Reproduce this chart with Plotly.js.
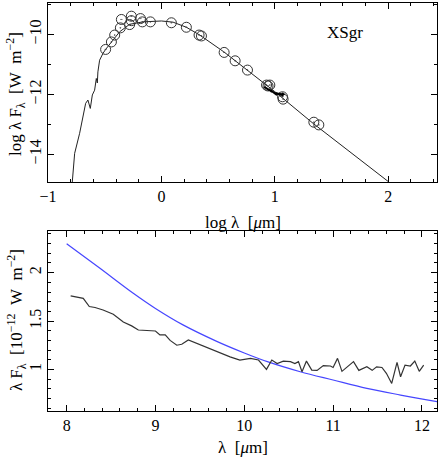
<!DOCTYPE html>
<html>
<head>
<meta charset="utf-8">
<script src="https://cdn.plot.ly/plotly-3.0.1.min.js"></script>
<style>body{margin:0;background:#fff}</style>
</head>
<body>
<div id="plot" style="width:441px;height:463px"></div>
<script>
// SED model curve (log lambda vs log lambda F_lambda)
const sedLogLam = [-0.786, -0.765, -0.721, -0.668, -0.648, -0.627, -0.609, -0.589, -0.574, -0.565, -0.56, -0.545,
  -0.515, -0.492, -0.427, -0.368, -0.28, -0.162, 0.0, 0.103, 0.22, 0.338, 0.55, 0.755, 1.0, 1.338, 2.0];
const sedLogF = [-14.93, -13.97, -13.3, -12.3, -12.19, -12.47, -12.02, -11.86, -11.47, -11.62, -11.25, -10.86,
  -10.63, -10.5, -10.19, -9.91, -9.66, -9.58, -9.55, -9.59, -9.76, -10.02, -10.58, -11.19, -11.91, -12.97, -14.91];

// photometry
const photLogLam = [-0.492, -0.441, -0.412, -0.362, -0.353, -0.28, -0.265, -0.265, -0.185, -0.168, -0.097, 0.088,
  0.22, 0.332, 0.353, 0.553, 0.65, 0.759, 0.927, 0.956, 0.94, 1.068, 1.073, 1.344, 1.388];
const photLogF = [-10.5, -10.25, -10.02, -9.78, -9.5, -9.67, -9.39, -9.54, -9.47, -9.58, -9.58, -9.61,
  -9.76, -10.02, -10.05, -10.6, -10.88, -11.19, -11.69, -11.69, -11.72, -12.08, -12.16, -12.93, -13.02];

// IRS spectrum, lambda in micron, lambda F_lambda in 1e-12 W m^-2
const specLam = [8.045, 8.187, 8.255, 8.32, 8.41, 8.525, 8.638, 8.732, 8.807, 8.9, 9.0, 9.05, 9.11, 9.165, 9.24,
  9.296, 9.37, 9.84, 9.95, 10.07, 10.16, 10.25, 10.31, 10.37, 10.44, 10.52, 10.57, 10.61, 10.65, 10.70, 10.76,
  10.82, 10.89, 10.97, 11.0, 11.05, 11.1, 11.23, 11.29, 11.38, 11.44, 11.49, 11.55, 11.6, 11.66, 11.72, 11.76,
  11.81, 11.87, 11.92, 11.97, 12.02];
const specF = [1.76, 1.735, 1.65, 1.64, 1.614, 1.57, 1.49, 1.45, 1.407, 1.404, 1.397, 1.356, 1.356, 1.30, 1.25,
  1.26, 1.304, 1.13, 1.097, 1.114, 1.097, 1.0, 1.097, 1.06, 1.086, 1.08, 1.06, 1.08, 0.976, 1.086, 0.993,
  0.99, 1.04, 1.035, 1.02, 1.114, 0.98, 1.08, 0.99, 1.027, 0.99, 1.027, 1.02, 0.96, 0.855, 1.073, 0.924,
  1.044, 1.035, 1.086, 0.98, 1.044];

// model in the 8-12 micron window
const modelLam = [8.0, 8.375, 8.75, 9.0, 9.31, 9.69, 10.0, 10.26, 10.63, 11.0, 11.38, 11.76, 12.17];
const modelF = [2.30, 2.045, 1.787, 1.63, 1.46, 1.29, 1.17, 1.08, 0.976, 0.89, 0.804, 0.735, 0.666];

const serif = 'Liberation Serif, DejaVu Serif, serif';
const tickFont = {family: serif, size: 16, color: '#000'};
const titleFont = {family: serif, size: 17, color: '#000'};
const sp = '\u00a0';

const data = [
  {x: sedLogLam, y: sedLogF, mode: 'lines', type: 'scatter', line: {color: '#222', width: 1},
   xaxis: 'x', yaxis: 'y'},
  {x: photLogLam, y: photLogF, mode: 'markers', type: 'scatter',
   marker: {symbol: 'circle-open-dot', size: 10, color: '#333', line: {color: '#333', width: 1}},
   xaxis: 'x', yaxis: 'y'},
  {x: specLam.map(Math.log10), y: specF.map(v => Math.log10(v * 1e-12)), mode: 'lines', type: 'scatter',
   line: {color: '#000', width: 2}, xaxis: 'x', yaxis: 'y'},
  {x: modelLam, y: modelF, mode: 'lines', type: 'scatter', line: {color: '#4646ff', width: 1.2, shape: 'spline'},
   xaxis: 'x2', yaxis: 'y2'},
  {x: specLam, y: specF, mode: 'lines', type: 'scatter', line: {color: '#333', width: 1.2},
   xaxis: 'x2', yaxis: 'y2'}
];

const axBase = {
  showline: true, linecolor: '#000', linewidth: 1, mirror: 'allticks',
  ticks: 'inside', ticklen: 6, tickcolor: '#000', showgrid: false, zeroline: false,
  tickfont: tickFont
};

const layout = {
  width: 441, height: 463,
  margin: {l: 48, r: 4, t: 3, b: 52},
  paper_bgcolor: '#fff', plot_bgcolor: '#fff',
  showlegend: false,
  font: tickFont,
  xaxis: Object.assign({}, axBase, {
    domain: [0, 1], range: [-1.0, 2.43], tick0: 0, dtick: 1,
    minor: {ticks: 'inside', ticklen: 3, dtick: 0.2, tick0: 0, tickcolor: '#000'},
    anchor: 'y'
  }),
  yaxis: Object.assign({}, axBase, {
    domain: [0.561, 1], range: [-14.93, -8.95], tick0: -10, dtick: 2, tickangle: -90,
    minor: {ticks: 'inside', ticklen: 3, dtick: 1, tick0: 0, tickcolor: '#000'},
    anchor: 'x'
  }),
  xaxis2: Object.assign({}, axBase, {
    domain: [0, 1], range: [7.79, 12.17], tick0: 8, dtick: 1,
    minor: {ticks: 'inside', ticklen: 3, dtick: 0.2, tick0: 0, tickcolor: '#000'},
    anchor: 'y2'
  }),
  yaxis2: Object.assign({}, axBase, {
    domain: [0, 0.441], range: [0.57, 2.43], tick0: 1, dtick: 0.5, tickangle: -90,
    minor: {ticks: 'inside', ticklen: 3, dtick: 0.1, tick0: 0, tickcolor: '#000'},
    anchor: 'x2'
  }),
  annotations: [
    {text: 'XSgr', xref: 'x', yref: 'y', x: 1.62, y: -9.95, showarrow: false, font: titleFont,
     xanchor: 'center', yanchor: 'middle'},
    {text: 'log' + sp + 'λ' + sp + sp + '[<i>μ</i>m]', xref: 'paper', yref: 'paper', x: 0.5, y: 0.463,
     showarrow: false, font: titleFont, xanchor: 'center', yanchor: 'middle'},
    {text: 'λ' + sp + sp + '[<i>μ</i>m]', xref: 'paper', yref: 'paper', x: 0.5, y: -0.09,
     showarrow: false, font: titleFont, xanchor: 'center', yanchor: 'middle'},
    {text: 'log' + sp + 'λ' + sp + 'F<sub>λ</sub>' + sp + sp + '[W' + sp + sp + 'm<sup>−2</sup>]',
     xref: 'paper', yref: 'paper', x: -0.082, y: 0.777, textangle: -90, showarrow: false, font: titleFont,
     xanchor: 'center', yanchor: 'middle'},
    {text: 'λ' + sp + 'F<sub>λ</sub>' + sp + sp + '[10<sup>−12</sup>' + sp + sp + 'W' + sp + sp + 'm<sup>−2</sup>]',
     xref: 'paper', yref: 'paper', x: -0.082, y: 0.223, textangle: -90, showarrow: false, font: titleFont,
     xanchor: 'center', yanchor: 'middle'}
  ]
};

Plotly.newPlot('plot', data, layout, {displayModeBar: false});
</script>
</body>
</html>
